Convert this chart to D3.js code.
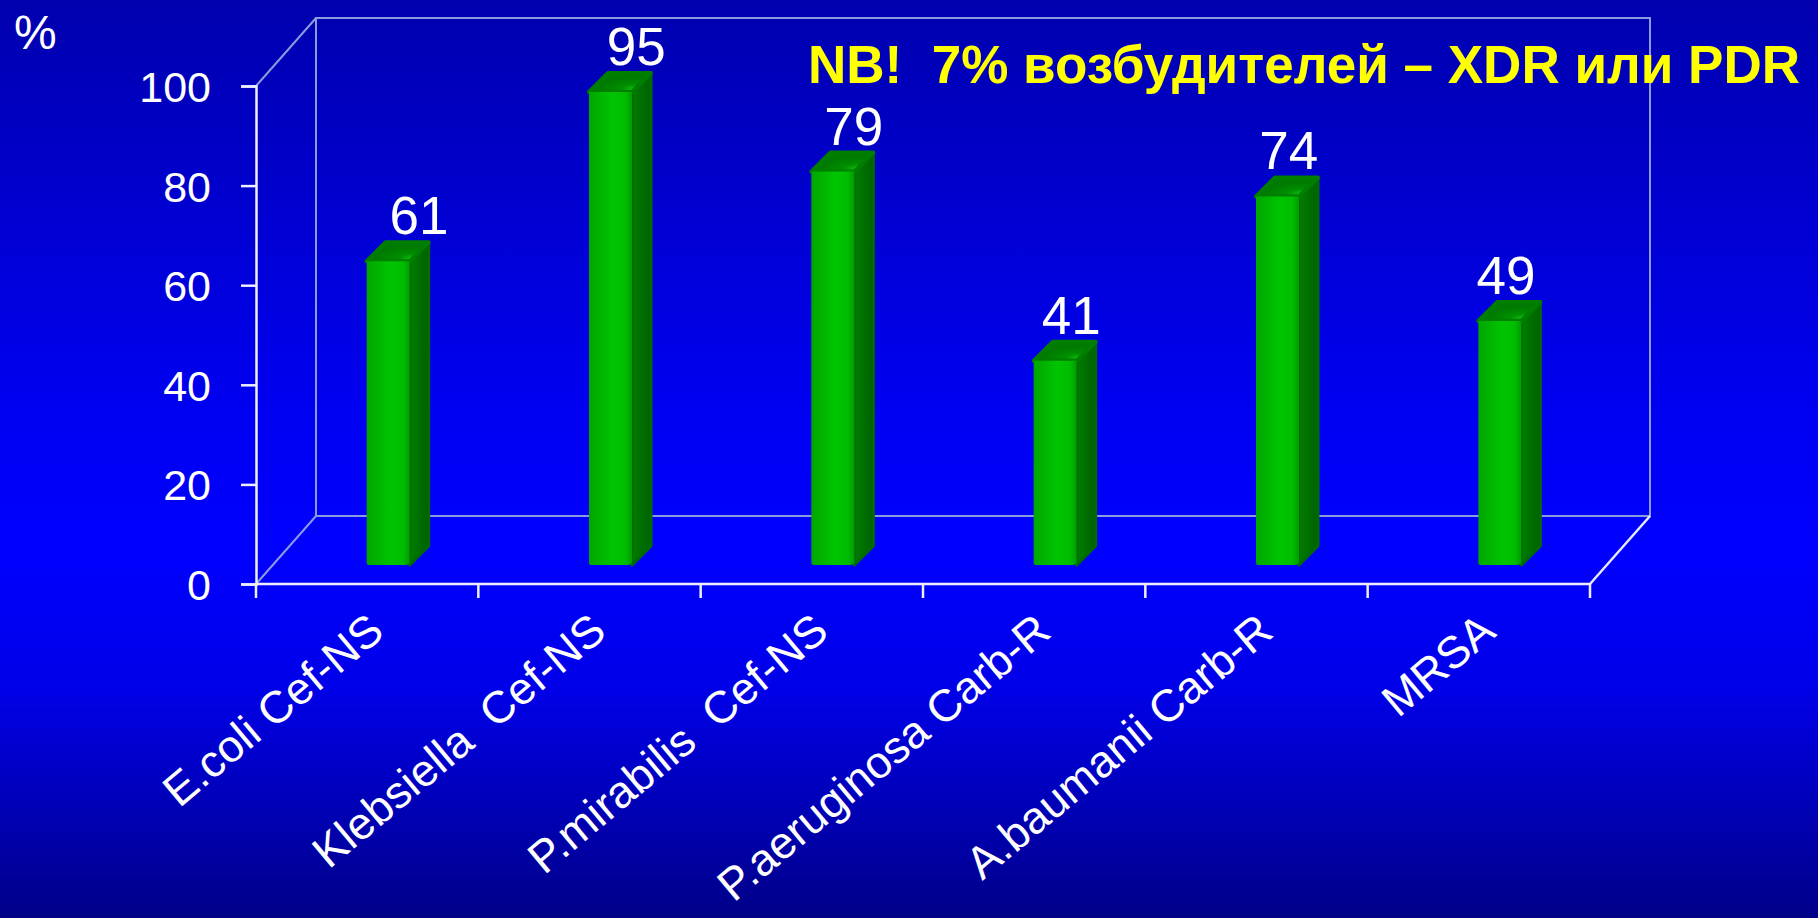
<!DOCTYPE html>
<html>
<head>
<meta charset="utf-8">
<script src="https://cdn.jsdelivr.net/npm/d3@7"></script>
<style>
  html, body { margin: 0; padding: 0; background: #0000c0; }
  svg { display: block; }
  text { font-family: "Liberation Sans", Arial, sans-serif; }
</style>
</head>
<body>
<svg id="chart" width="1818" height="918"></svg>
<script>
// Share of resistant pathogens, %
const categories = ["E.coli Cef-NS", "Klebsiella  Cef-NS", "P.mirabilis  Cef-NS", "P.aeruginosa Carb-R", "A.baumanii Carb-R", "MRSA"];
const values = [61, 95, 79, 41, 74, 49];
const yTicks = [0, 20, 40, 60, 80, 100];
const unitLabel = "%";
const note = "NB!  7% возбудителей – XDR или PDR";

const W = 1818, H = 918;
const svg = d3.select("#chart");
const defs = svg.append("defs");

// background: vertical blue gradient
const bg = defs.append("linearGradient").attr("id", "bg").attr("x1", 0).attr("y1", 0).attr("x2", 0).attr("y2", 1);
[[0, "#0000ae"], [0.45, "#0000f2"], [0.6, "#0000ff"], [0.75, "#0000e8"], [1, "#000088"]]
  .forEach(([o, c]) => bg.append("stop").attr("offset", o).attr("stop-color", c));
svg.append("rect").attr("width", W).attr("height", H).attr("fill", "url(#bg)");

// bar face gradients
const front = defs.append("linearGradient").attr("id", "front").attr("x1", 0).attr("y1", 0).attr("x2", 1).attr("y2", 0);
[[0, "#00a600"], [0.55, "#00c400"], [0.85, "#00bc00"], [1, "#009c00"]]
  .forEach(([o, c]) => front.append("stop").attr("offset", o).attr("stop-color", c));
const side = defs.append("linearGradient").attr("id", "side").attr("x1", 0).attr("y1", 0).attr("x2", 1).attr("y2", 0);
[[0, "#007e00"], [1, "#006000"]]
  .forEach(([o, c]) => side.append("stop").attr("offset", o).attr("stop-color", c));
const cap = defs.append("radialGradient").attr("id", "cap").attr("cx", 0.75).attr("cy", 0.85).attr("r", 0.6);
[[0, "#10c010"], [0.4, "#008e00"], [1, "#007a00"]]
  .forEach(([o, c]) => cap.append("stop").attr("offset", o).attr("stop-color", c));

// plot geometry
const x0 = 256, x1 = 1590, yZero = 584, yTop = 86;
const depth = { dx: 60, dy: -68 };

const x = d3.scaleBand().domain(categories).range([x0, x1]);
const y = d3.scaleLinear().domain([0, 100]).range([yZero, yTop]);

// back wall, floor and side edges of the 3D box
const wall = svg.append("g").attr("fill", "none").attr("stroke", "#8c9ae0").attr("stroke-width", 2);
const bx0 = x0 + depth.dx, bx1 = x1 + depth.dx;
const byTop = y(100) + depth.dy, byZero = y(0) + depth.dy;
wall.append("path").attr("d", `M${bx0},${byZero}V${byTop}H${bx1}V${byZero}H${bx0}`);
wall.append("line").attr("x1", x0).attr("y1", y(100)).attr("x2", bx0).attr("y2", byTop);
wall.append("line").attr("x1", x0).attr("y1", y(0)).attr("x2", bx0).attr("y2", byZero);
svg.append("line").attr("x1", x1).attr("y1", y(0)).attr("x2", bx1).attr("y2", byZero)
  .attr("stroke", "#e8e8ff").attr("stroke-width", 2.5);

// y axis
const yAxis = d3.axisLeft(y).tickValues(yTicks).tickSize(15).tickPadding(30).tickFormat(d3.format("d"));
const gy = svg.append("g").attr("transform", `translate(${x0},0)`).call(yAxis);
gy.select(".domain").attr("stroke", "#eeeeff").attr("stroke-width", 2.5);
gy.selectAll(".tick line").attr("stroke", "#eeeeff").attr("stroke-width", 2.5);
gy.selectAll(".tick text").attr("fill", "#ffffff").attr("font-size", 43)
  .attr("font-family", "Liberation Sans, Arial, sans-serif").attr("dy", "0.36em");

// x axis: baseline with ticks between categories
const gx = svg.append("g");
gx.append("line").attr("x1", x0).attr("x2", x1).attr("y1", yZero).attr("y2", yZero)
  .attr("stroke", "#eeeeff").attr("stroke-width", 2.5);
const boundaries = categories.map(c => x(c)).concat([x1]);
gx.selectAll("line.tick").data(boundaries).join("line").attr("class", "tick")
  .attr("x1", d => d).attr("x2", d => d).attr("y1", yZero).attr("y2", yZero + 14)
  .attr("stroke", "#eeeeff").attr("stroke-width", 2.5);
// slanted category labels
gx.selectAll("text.cat").data(categories).join("text").attr("class", "cat")
  .attr("transform", d => `translate(${x(d) + x.bandwidth() / 2 + 19},${yZero + 51}) rotate(-40)`)
  .attr("text-anchor", "end").attr("fill", "#ffffff").attr("font-size", 45)
  .style("white-space", "pre")
  .text(d => d);

// bars: front face, side face and top cap
const barW = 43, bd = { dx: 19, dy: -19 }, off = { dx: 21, dy: -19 };
const midX = (x0 + x1 + depth.dx) / 2;
const bars = svg.append("g").selectAll("g").data(categories.map((c, i) => ({ c, v: values[i] }))).join("g");
bars.each(function (d) {
  const g = d3.select(this);
  const L = x(d.c) + x.bandwidth() / 2 - barW / 2 + off.dx;
  const R = L + barW;
  const B = y(0) + off.dy;
  const T = y(d.v) + off.dy;
  const r = 7;
  g.append("path")
    .attr("d", `M${R},${T}L${R + bd.dx},${T + bd.dy}L${R + bd.dx},${B + bd.dy}L${R},${B}Z`)
    .attr("fill", "url(#side)").attr("stroke", "#006c00").attr("stroke-width", 3).attr("stroke-linejoin", "round");
  g.append("path")
    .attr("d", `M${L},${T}L${L + bd.dx},${T + bd.dy}L${R + bd.dx},${T + bd.dy}L${R},${T}Z`)
    .attr("fill", "url(#cap)").attr("stroke", "#007e00").attr("stroke-width", 4).attr("stroke-linejoin", "round");
  g.append("path")
    .attr("d", `M${L},${T}H${R}V${B - 2}Q${R},${B} ${R - r},${B}H${L + 2}Q${L},${B} ${L},${B - 2}Z`)
    .attr("fill", "url(#front)");
  // value label, nudged toward the plot centre for the perspective look
  const cx = (L + R + bd.dx) / 2;
  g.append("text")
    .attr("x", cx + 9 + (midX - cx) * 0.022).attr("y", T + bd.dy - 8)
    .attr("text-anchor", "middle").attr("fill", "#ffffff").attr("font-size", 53)
    .text(d.v);
});

// unit label and note
svg.append("text").attr("x", 14).attr("y", 49).attr("fill", "#ffffff").attr("font-size", 48).text(unitLabel);
svg.append("text").attr("x", 808).attr("y", 83).attr("fill", "#ffff00").attr("font-size", 53)
  .attr("font-weight", "bold").attr("textLength", 992).attr("lengthAdjust", "spacingAndGlyphs")
  .style("white-space", "pre").text(note);
</script>
</body>
</html>
